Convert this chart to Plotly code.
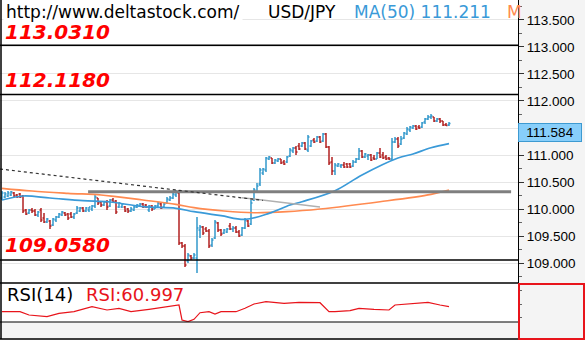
import plotly.graph_objects as go

# ---- USD/JPY hourly bars -------------------------------------------------
OPEN = [
    110.204, 110.222, 110.241, 110.259, 110.296, 110.259, 110.278, 110.241, 109.981, 109.926,
    109.981, 109.963, 109.889, 109.981, 109.833, 109.759, 109.778, 109.704, 109.796, 109.852,
    109.889, 109.926, 109.907, 109.907, 109.852, 109.926, 109.963, 110.019, 109.963, 109.981,
    110.000, 110.056, 110.204, 110.130, 110.074, 110.130, 110.056, 110.167,
    110.148, 110.037, 110.037, 110.037, 110.000, 109.963, 109.981, 110.037, 110.056, 110.093,
    110.074, 109.981, 110.056, 110.000, 110.056, 110.093, 110.037, 110.111, 110.167, 110.204,
    110.259, 110.296, 109.370, 109.315, 109.037, 109.130, 109.093, 109.093, 109.611, 109.667,
    109.630, 109.593, 109.333, 109.463, 109.741, 109.611,
    109.556, 109.574, 109.685, 109.630, 109.648, 109.574, 109.519, 109.648, 109.778, 109.722,
    110.167, 110.315, 110.463, 110.667, 110.722, 110.926, 110.944, 110.852, 110.889, 110.926,
    110.870, 110.870, 110.981, 111.074, 111.130, 111.167, 111.167, 111.222, 111.093, 111.167,
    111.278, 111.259, 111.333, 111.259, 111.389, 111.148, 110.870, 110.704, 110.796, 110.796,
    110.815, 110.833, 110.833, 110.796, 110.870, 110.926, 111.074, 110.963, 110.981, 111.000,
    110.944, 110.926, 111.037, 111.000, 110.963, 110.944, 110.926, 111.241, 111.296, 111.204,
    111.315, 111.389, 111.463, 111.500, 111.537, 111.519, 111.519, 111.611, 111.667, 111.704,
    111.704, 111.630, 111.667, 111.630, 111.560, 111.556,
]
HIGH = [
    110.333, 110.315, 110.333, 110.333, 110.315, 110.278, 110.296, 110.259, 110.000, 110.000,
    110.019, 110.000, 109.963, 110.019, 109.926, 109.833, 109.796, 109.833, 109.870, 109.926,
    109.963, 109.944, 109.926, 109.944, 109.926, 110.056, 110.037, 110.037, 110.037, 110.037,
    110.074, 110.259, 110.204, 110.148, 110.148, 110.167, 110.185, 110.204,
    110.167, 110.130, 110.111, 110.056, 110.019, 110.037, 110.056, 110.093, 110.111, 110.111,
    110.093, 110.074, 110.074, 110.074, 110.130, 110.111, 110.111, 110.222, 110.241, 110.296,
    110.352, 110.352, 109.389, 109.352, 109.185, 109.148, 109.185, 109.852, 109.704, 109.685,
    109.667, 109.630, 109.463, 109.796, 109.759, 109.630,
    109.630, 109.648, 109.741, 109.685, 109.685, 109.611, 109.667, 109.833, 109.796, 110.167,
    110.389, 110.481, 110.759, 110.759, 110.963, 110.981, 110.944, 110.926, 110.944, 110.926,
    110.907, 110.981, 111.130, 111.148, 111.167, 111.222, 111.241, 111.241, 111.370, 111.278,
    111.315, 111.352, 111.352, 111.407, 111.407, 111.167, 110.963, 110.852, 110.852, 110.833,
    110.870, 110.852, 110.852, 110.907, 110.944, 111.130, 111.093, 111.037, 111.019, 111.019,
    111.000, 111.056, 111.130, 111.056, 111.000, 110.963, 111.315, 111.333, 111.333, 111.352,
    111.426, 111.519, 111.537, 111.556, 111.556, 111.556, 111.611, 111.685, 111.741, 111.759,
    111.704, 111.685, 111.685, 111.630, 111.593, 111.611,
]
LOW = [
    110.167, 110.204, 110.222, 110.241, 110.222, 110.204, 110.204, 109.926, 109.889, 109.907,
    109.926, 109.870, 109.852, 109.759, 109.741, 109.741, 109.630, 109.685, 109.759, 109.833,
    109.870, 109.870, 109.796, 109.833, 109.815, 109.907, 109.944, 109.944, 109.944, 109.944,
    109.963, 110.019, 110.074, 110.037, 110.056, 109.981, 110.037, 110.111,
    109.907, 110.019, 110.019, 109.944, 109.926, 109.944, 109.963, 110.019, 110.037, 110.019,
    110.019, 109.944, 109.963, 110.000, 110.037, 110.000, 110.019, 110.093, 110.148, 110.185,
    110.222, 109.333, 109.278, 108.926, 109.000, 109.056, 109.074, 108.815, 109.463, 109.519,
    109.574, 109.278, 109.296, 109.444, 109.574, 109.500,
    109.537, 109.556, 109.611, 109.574, 109.556, 109.481, 109.500, 109.630, 109.667, 109.704,
    110.148, 110.296, 110.426, 110.630, 110.685, 110.907, 110.833, 110.833, 110.870, 110.833,
    110.815, 110.852, 110.963, 111.037, 111.000, 111.093, 111.148, 111.093, 111.056, 111.148,
    111.222, 111.241, 111.222, 111.241, 111.130, 110.815, 110.630, 110.630, 110.778, 110.759,
    110.759, 110.759, 110.759, 110.778, 110.852, 110.907, 110.944, 110.944, 110.907, 110.889,
    110.907, 110.926, 110.944, 110.926, 110.907, 110.907, 110.907, 111.222, 111.130, 111.185,
    111.296, 111.370, 111.426, 111.481, 111.463, 111.481, 111.500, 111.574, 111.648, 111.667,
    111.611, 111.611, 111.593, 111.537, 111.537, 111.537,
]
CLOSE = [
    110.296, 110.278, 110.296, 110.315, 110.241, 110.222, 110.222, 109.963, 109.907, 109.981,
    109.963, 109.889, 109.944, 109.796, 109.759, 109.815, 109.685, 109.815, 109.852, 109.907,
    109.944, 109.889, 109.833, 109.852, 109.907, 110.019, 110.019, 109.963, 110.019, 110.037,
    110.056, 110.222, 110.111, 110.074, 110.130, 110.037, 110.167, 110.130,
    109.944, 110.111, 110.093, 109.963, 109.963, 110.000, 110.037, 110.074, 110.093, 110.037,
    110.037, 110.056, 110.000, 110.056, 110.111, 110.019, 110.093, 110.185, 110.204, 110.278,
    110.315, 109.370, 109.315, 108.963, 109.148, 109.093, 109.148, 109.648, 109.667, 109.556,
    109.593, 109.315, 109.426, 109.759, 109.611, 109.537,
    109.611, 109.630, 109.630, 109.648, 109.574, 109.500, 109.648, 109.796, 109.685, 110.111,
    110.352, 110.426, 110.722, 110.741, 110.944, 110.963, 110.852, 110.907, 110.926, 110.852,
    110.833, 110.963, 111.093, 111.130, 111.056, 111.111, 111.222, 111.111, 111.333, 111.259,
    111.241, 111.333, 111.241, 111.389, 111.148, 110.852, 110.704, 110.815, 110.833, 110.815,
    110.778, 110.778, 110.778, 110.870, 110.926, 111.074, 110.963, 111.019, 111.000, 110.907,
    110.926, 111.037, 110.963, 110.944, 110.926, 110.926, 111.241, 111.296, 111.167, 111.296,
    111.407, 111.481, 111.519, 111.537, 111.481, 111.500, 111.593, 111.667, 111.704, 111.722,
    111.630, 111.667, 111.630, 111.556, 111.548, 111.584,
]
BAR = list(range(len(CLOSE)))

# ---- moving averages (bar number, value) ---------------------------------
MA50_BAR = [0, 7, 16, 27, 36, 47, 58, 64, 73, 81, 89, 96, 100, 111, 120, 132, 137, 143, 149]
MA50_VAL = [110.167, 110.241, 110.204, 110.154, 110.130, 110.043, 110.013, 109.950, 109.876,
            109.809, 109.920, 110.074, 110.135, 110.339, 110.630, 110.944, 111.019, 111.135, 111.211]
MA_SLOW_BAR = [0, 10, 22, 33, 38, 47, 58, 64, 74, 84, 95, 106, 126, 143, 149]
MA_SLOW_VAL = [110.383, 110.333, 110.291, 110.259, 110.228, 110.167, 110.087, 110.024, 109.963,
               109.931, 109.950, 110.000, 110.135, 110.272, 110.352]

# ---- RSI(14) -------------------------------------------------------------
RSI_BAR = [0, 6, 9, 15, 19, 24, 30, 35, 39, 43, 49, 54, 59, 60, 62, 64, 66, 69, 71, 73,
           78, 81, 84, 88, 94, 99, 106, 109, 111, 116, 119, 124, 129, 131, 136, 142, 146, 149]
RSI_VAL = [53.6, 53.6, 48.7, 46.2, 51.2, 53.6, 61.0, 56.1, 58.6, 53.6, 57.1, 60.1, 63.5, 41.3,
           38.8, 42.3, 52.1, 53.6, 50.2, 53.6, 53.6, 58.6, 65.0, 68.4, 66.0, 67.5, 66.9, 53.6,
           53.6, 55.1, 58.6, 57.1, 56.1, 63.5, 65.0, 67.5, 63.5, 60.997]

# ---- price scale ---------------------------------------------------------
PRICE_TICKS = [109.0, 109.5, 110.0, 110.5, 111.0, 111.5, 112.0, 112.5, 113.0, 113.5]

# ---- drawn levels and lines ----------------------------------------------
LEVELS = [113.0310, 112.1180, 109.0580]
LEVEL_LABEL_Y = [113.278, 112.380, 109.333]
PIVOT_LINE = dict(bar0=28.7, bar1=169.7, price=110.32)
TREND_DOTTED = dict(bar0=-0.667, p0=110.741, bar1=87.0, p1=110.16)
TREND_FADED = dict(bar0=80.0, p0=110.21, bar1=106.0, p1=110.037)

UP = "#3399cc"
DOWN = "#b22222"
MA50_COLOR = "#3a9ad8"
MA_SLOW_COLOR = "#ff8a50"
RSI_COLOR = "#e8141b"

W, H = 585, 340
X_END = 518 / W
Y_MAIN_LO = 1 - 283 / H
Y_RSI_LO = 1 - 322 / H


def py(px):
    return 1 - px / H


last = CLOSE[-1]
# the last-price badge hides any scale label it sits on
tick_text = ["" if 0 <= t - last + 0.25 <= 0.3 else f"{t:.3f}" for t in PRICE_TICKS]

fig = go.Figure()

fig.add_trace(go.Ohlc(
    x=BAR, open=OPEN, high=HIGH, low=LOW, close=CLOSE,
    increasing=dict(line=dict(color=UP, width=1.5)),
    decreasing=dict(line=dict(color=DOWN, width=1.5)),
    tickwidth=0.5, hoverinfo="skip", showlegend=False,
))
fig.add_trace(go.Scatter(
    x=MA_SLOW_BAR, y=MA_SLOW_VAL, mode="lines",
    line=dict(color=MA_SLOW_COLOR, width=1.7, shape="spline"),
    hoverinfo="skip", showlegend=False,
))
fig.add_trace(go.Scatter(
    x=MA50_BAR, y=MA50_VAL, mode="lines",
    line=dict(color=MA50_COLOR, width=1.7, shape="spline"),
    hoverinfo="skip", showlegend=False,
))
fig.add_trace(go.Scatter(
    x=RSI_BAR, y=RSI_VAL, mode="lines", yaxis="y2",
    line=dict(color=RSI_COLOR, width=1.2),
    hoverinfo="skip", showlegend=False,
))

shapes = []
for lvl in LEVELS:
    shapes.append(dict(type="line", xref="paper", yref="y", x0=0, x1=X_END, y0=lvl, y1=lvl,
                       line=dict(color="black", width=1.5)))
shapes.append(dict(type="line", xref="x", yref="y",
                   x0=PIVOT_LINE["bar0"], x1=PIVOT_LINE["bar1"],
                   y0=PIVOT_LINE["price"], y1=PIVOT_LINE["price"],
                   line=dict(color="#7f7f7f", width=3)))
shapes.append(dict(type="line", xref="x", yref="y",
                   x0=TREND_FADED["bar0"], x1=TREND_FADED["bar1"],
                   y0=TREND_FADED["p0"], y1=TREND_FADED["p1"],
                   line=dict(color="#b0b0b0", width=1.5)))
shapes.append(dict(type="line", xref="x", yref="y",
                   x0=TREND_DOTTED["bar0"], x1=TREND_DOTTED["bar1"],
                   y0=TREND_DOTTED["p0"], y1=TREND_DOTTED["p1"],
                   line=dict(color="#333333", width=1.2, dash="dot")))
# panel frame
shapes += [
    dict(type="line", xref="paper", yref="paper", x0=0, x1=X_END, y0=Y_MAIN_LO, y1=Y_MAIN_LO,
         line=dict(color="black", width=1.5)),
    dict(type="line", xref="paper", yref="paper", x0=0, x1=X_END, y0=Y_RSI_LO, y1=Y_RSI_LO,
         line=dict(color="black", width=1.2)),
    dict(type="line", xref="paper", yref="paper", x0=0, x1=X_END, y0=py(339), y1=py(339),
         line=dict(color="black", width=1.5)),
    dict(type="line", xref="paper", yref="paper", x0=1 / W, x1=1 / W, y0=py(339), y1=1,
         line=dict(color="black", width=1.5)),
    dict(type="rect", xref="paper", yref="paper", x0=519 / W, x1=584 / W, y0=py(339), y1=py(284),
         line=dict(color="#e8141b", width=2), fillcolor="rgba(0,0,0,0)"),
]

FONT = "DejaVu Sans"
ann = []
for lvl, ly in zip(LEVELS, LEVEL_LABEL_Y):
    ann.append(dict(xref="paper", yref="y", x=3 / W, y=ly, xanchor="left", yanchor="middle",
                    text=f"{lvl:.4f}", showarrow=False,
                    font=dict(family=FONT, size=20, color="#ff0000", weight="bold", style="italic")))
ann += [
    dict(xref="paper", yref="paper", x=3 / W, y=py(12), xanchor="left", yanchor="middle",
         text="http://www.deltastock.com/", showarrow=False, bgcolor="white", borderpad=2,
         font=dict(family=FONT, size=17, color="black")),
    dict(xref="paper", yref="paper", x=266 / W, y=py(12), xanchor="left", yanchor="middle",
         text="USD/JPY", showarrow=False, font=dict(family=FONT, size=17, color="black")),
    dict(xref="paper", yref="paper", x=352 / W, y=py(12), xanchor="left", yanchor="middle",
         text=f"MA(50) {MA50_VAL[-1]:.3f}", showarrow=False,
         font=dict(family=FONT, size=17, color=MA50_COLOR)),
    dict(xref="paper", yref="paper", x=505 / W, y=py(12), xanchor="left", yanchor="middle",
         text="M", showarrow=False, font=dict(family=FONT, size=17, color=MA_SLOW_COLOR)),
    dict(xref="paper", yref="paper", x=5 / W, y=py(294), xanchor="left", yanchor="middle",
         text="RSI(14)", showarrow=False, font=dict(family=FONT, size=18, color="black")),
    dict(xref="paper", yref="paper", x=84 / W, y=py(294), xanchor="left", yanchor="middle",
         text=f"RSI:{RSI_VAL[-1]:.3f}", showarrow=False,
         font=dict(family=FONT, size=18, color=RSI_COLOR)),
    dict(xref="paper", yref="y", x=518 / W, y=last, xanchor="left", yanchor="top",
         text=f"{last:.3f}", showarrow=False, width=60, height=15,
         bgcolor="#87cefa", bordercolor="#3d9ad1", borderwidth=1, borderpad=1,
         font=dict(family="Liberation Sans", size=13.5, color="black")),
]

fig.update_layout(
    width=W, height=H,
    margin=dict(l=0, r=0, t=0, b=0),
    paper_bgcolor="#f4f4f4",
    plot_bgcolor="white",
    showlegend=False,
    xaxis=dict(domain=[0, X_END], range=[-0.667, 172], visible=False,
               rangeslider=dict(visible=False), fixedrange=True),
    yaxis=dict(domain=[Y_MAIN_LO, 1], range=[108.630, 113.870], side="right", anchor="x",
               tickmode="array", tickvals=PRICE_TICKS, ticktext=tick_text,
               ticks="outside", ticklen=5,
               tickcolor="#333", tickfont=dict(family="Liberation Sans", size=13.5, color="black"),
               showgrid=True, gridcolor="#e6e6e6", gridwidth=1,
               minor=dict(dtick=0.25, tick0=0, ticks="outside", ticklen=3, tickcolor="#666",
                          showgrid=False),
               showline=True, linecolor="black", linewidth=1.2, zeroline=False,
               automargin=False, fixedrange=True),
    yaxis2=dict(domain=[Y_RSI_LO, Y_MAIN_LO], range=[38.33, 96.1], side="right", anchor="x",
                showticklabels=False, ticks="outside", ticklen=3, dtick=20, tick0=5,
                tickcolor="#666", showgrid=False, zeroline=False, automargin=False,
                fixedrange=True),
    shapes=shapes,
    annotations=ann,
)

fig.write_html("out.html")
